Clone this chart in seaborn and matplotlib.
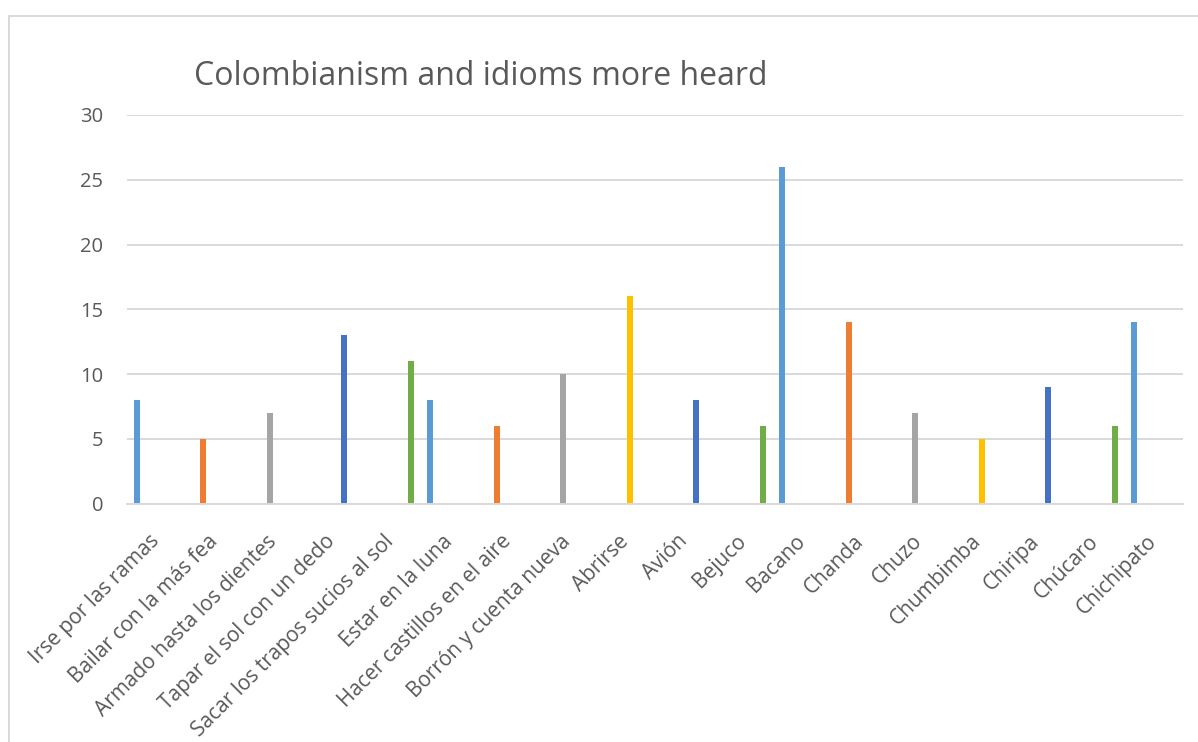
import matplotlib
matplotlib.use("Agg")
import matplotlib.pyplot as plt
from matplotlib.lines import Line2D
import pandas as pd
import seaborn as sns

# data
categories = [
    "Irse por las ramas", "Bailar con la más fea", "Armado hasta los dientes",
    "Tapar el sol con un dedo", "Sacar los trapos sucios al sol", "Estar en la luna",
    "Hacer castillos en el aire", "Borrón y cuenta nueva", "Abrirse", "Avión",
    "Bejuco", "Bacano", "Chanda", "Chuzo", "Chumbimba", "Chiripa", "Chúcaro",
    "Chichipato",
]
values = [8, 5, 7, 13, 11, 8, 6, 10, 16, 8, 6, 26, 14, 7, 5, 9, 6, 14]
# the Excel chart has six series, each category filled in only one of them
series = ["S1", "S2", "S3", "S5", "S6", "S1", "S2", "S3", "S4", "S5",
          "S6", "S1", "S2", "S3", "S4", "S5", "S6", "S1"]
series_names = ["S1", "S2", "S3", "S4", "S5", "S6"]
series_colors = ["#5B9BD5", "#ED7D31", "#A5A5A5", "#FFC000", "#4472C4", "#70AD47"]
y_ticks = [0, 5, 10, 15, 20, 25, 30]

text_color = "#595959"
grid_color = "#D9D9D9"

df = pd.DataFrame({"idiom": categories, "count": values, "series": series})

sns.set_theme(style="white")
plt.rcParams["font.family"] = ["Open Sans", "DejaVu Sans"]

W, H = 1198, 742
fig = plt.figure(figsize=(W / 100, H / 100), dpi=100)
ax = fig.add_axes([127 / W, 1 - 503.5 / H, (1183 - 127) / W, (503.5 - 115) / H])

sns.barplot(data=df, x="idiom", y="count", hue="series", order=categories,
            hue_order=series_names, palette=series_colors, dodge=True,
            width=0.8, gap=0.23, saturation=1, legend=False, ax=ax,
            linewidth=0, errorbar=None)

ax.set_ylim(0, 30)
ax.set_xlim(-0.5, len(categories) - 0.5)
ax.set_yticks(y_ticks)
ax.set_yticklabels([str(t) for t in y_ticks])
ax.yaxis.grid(True, color=grid_color, linewidth=1.4)
ax.set_axisbelow(True)
ax.set_xlabel("")
ax.set_ylabel("")

for side in ["top", "right", "left"]:
    ax.spines[side].set_visible(False)
ax.spines["bottom"].set_color(grid_color)
ax.spines["bottom"].set_linewidth(1.4)

ax.tick_params(axis="y", length=0, pad=17, labelsize=14.5, labelcolor=text_color)
ax.tick_params(axis="x", length=0, pad=25, labelsize=15, labelcolor=text_color)
for lab in ax.get_xticklabels():
    lab.set_rotation(45)
    lab.set_ha("right")
    lab.set_va("center")
    lab.set_rotation_mode("anchor")

fig.text(194 / W, 1 - 85 / H, "Colombianism and idioms more heard",
         ha="left", va="baseline", fontsize=23, color=text_color)

# chart area border (only top and left edges are inside the screenshot)
fig.add_artist(Line2D([9 / W, 1], [1 - 15.5 / H, 1 - 15.5 / H],
                      transform=fig.transFigure, color=grid_color, linewidth=1.4))
fig.add_artist(Line2D([9 / W, 9 / W], [0, 1 - 15.5 / H],
                      transform=fig.transFigure, color=grid_color, linewidth=1.4))

fig.savefig("out.png", dpi=100, facecolor="white")
